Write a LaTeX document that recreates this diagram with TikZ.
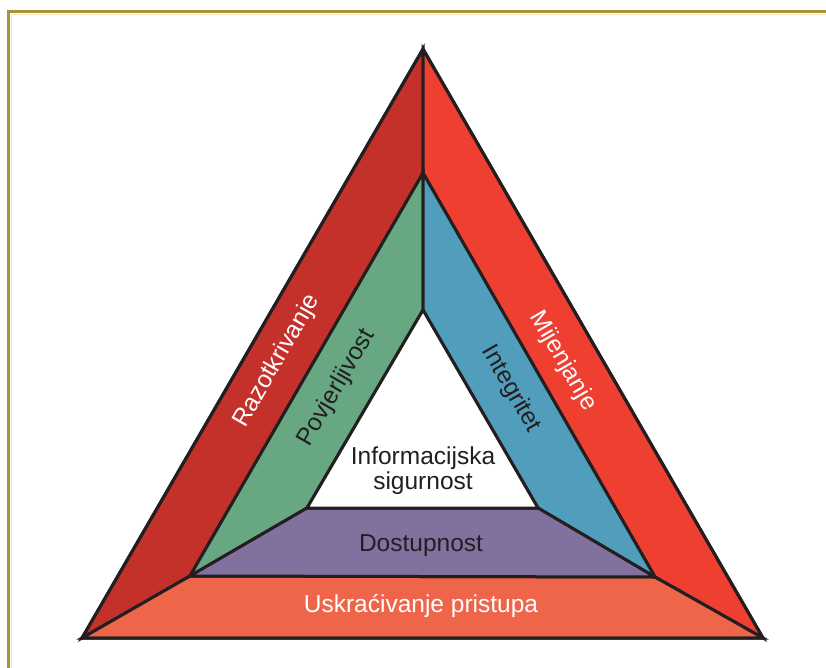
\documentclass[tikz,border=0pt]{standalone}
\usepackage{fontspec}
\setmainfont{Liberation Sans}
\definecolor{frameGold}{HTML}{A8923A}
\definecolor{frameCream}{HTML}{F2E7C2}
\definecolor{edgeInk}{HTML}{231F20}
\definecolor{redDark}{HTML}{C4302A}
\definecolor{redBright}{HTML}{EE3F30}
\definecolor{orangeBand}{HTML}{EF654A}
\definecolor{greenBand}{HTML}{67A883}
\definecolor{blueBand}{HTML}{509EBB}
\definecolor{purpleBand}{HTML}{82709F}
\definecolor{textInk}{HTML}{231F20}
\tikzset{
  band/.style={draw=edgeInk, line width=3pt, line join=miter},
  lightlabel/.style={text=white, font=\fontsize{24.5}{25}\selectfont, inner sep=0pt},
  darklabel/.style={text=textInk, font=\fontsize{24.5}{25}\selectfont, inner sep=0pt}
}
\begin{document}
\begin{tikzpicture}[x=1pt, y=-1pt]
  \useasboundingbox (0,0) rectangle (826,668);
  \fill[white] (0,0) rectangle (826,668);

  % frame along the top and left
  \draw[frameCream, line width=1pt] (11.5,668) -- (11.5,14.5) -- (826,14.5);
  \draw[frameGold, line width=3pt] (8.5,668) -- (8.5,11.5) -- (826,11.5);

  % outer triangle
  \coordinate (OA) at (423,49);
  \coordinate (OL) at (82,638);
  \coordinate (OR) at (763,638);
  % middle triangle
  \coordinate (MA) at (423,173);
  \coordinate (ML) at (190,576);
  \coordinate (MR) at (655,577);
  % inner triangle
  \coordinate (IA) at (423,310);
  \coordinate (IL) at (307,508);
  \coordinate (IR) at (538,508);

  % outer bands
  \filldraw[band, fill=redDark] (OA) -- (OL) -- (ML) -- (MA) -- cycle;
  \filldraw[band, fill=redBright] (OA) -- (OR) -- (MR) -- (MA) -- cycle;
  \filldraw[band, fill=orangeBand] (OL) -- (OR) -- (MR) -- (ML) -- cycle;
  % inner bands
  \filldraw[band, fill=greenBand] (MA) -- (ML) -- (IL) -- (IA) -- cycle;
  \filldraw[band, fill=blueBand] (MA) -- (MR) -- (IR) -- (IA) -- cycle;
  \filldraw[band, fill=purpleBand] (ML) -- (MR) -- (IR) -- (IL) -- cycle;
  \filldraw[band, fill=white] (IA) -- (IL) -- (IR) -- cycle;
  % outline of the whole triangle
  \draw[band] (OA) -- (OL) -- (OR) -- cycle;

  % labels
  \node[lightlabel, rotate=60] (razotkrivanje) at (277,361) {Razotkrivanje};
  \node[lightlabel, rotate=-60] (mijenjanje) at (563,361) {Mijenjanje};
  \node[lightlabel] (uskracivanje) at (421,606) {Uskraćivanje pristupa};
  \node[darklabel, rotate=60] (povjerljivost) at (337,388) {Povjerljivost};
  \node[darklabel, rotate=-60] (integritet) at (511,389) {Integritet};
  \node[darklabel] (dostupnost) at (421,546) {Dostupnost};
  \node[darklabel, align=center] (infosig) at (423,471) {Informacijska\\sigurnost};
\end{tikzpicture}
\end{document}
